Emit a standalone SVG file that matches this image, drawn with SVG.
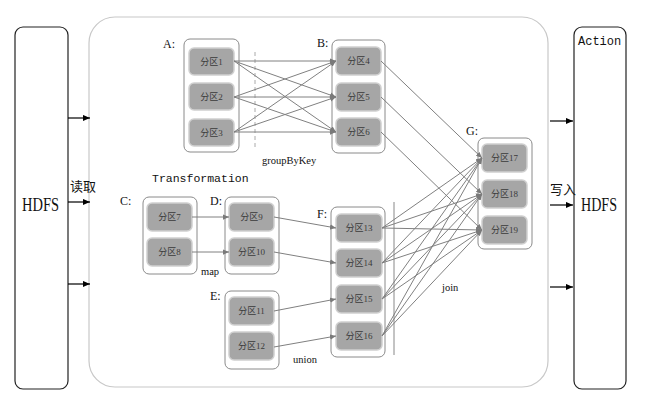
<svg xmlns="http://www.w3.org/2000/svg" width="668" height="410" viewBox="0 0 668 410">
<defs>
<marker id="ag" viewBox="0 0 8 8" refX="8" refY="4" markerWidth="6" markerHeight="6" orient="auto" markerUnits="userSpaceOnUse"><path d="M0,0.5 L8,4 L0,7.5 z" fill="#7a7a7a"/></marker>
<marker id="ak" viewBox="0 0 8 8" refX="8" refY="4" markerWidth="8" markerHeight="7" orient="auto" markerUnits="userSpaceOnUse"><path d="M0,0.5 L8,4 L0,7.5 z" fill="#000"/></marker>
<style>
.hd{fill:#fff;stroke:#222;stroke-width:1.2}
.big{fill:#fff;stroke:#c8c8c8;stroke-width:1.2}
.ct{fill:#fff;stroke:#8a8a8a;stroke-width:1}
.pt{fill:#a6a6a6;stroke:#d0d0d0;stroke-width:1.5}
.pl{font-family:"Liberation Serif","Noto Sans CJK SC",serif;font-size:9px;fill:#3a3a3a;text-anchor:middle}
.lb{font-family:"Liberation Serif",serif;font-size:12px;fill:#111}
.sm{font-family:"Liberation Serif",serif;font-size:10.5px;fill:#111}
.cj{font-family:"Noto Sans CJK SC",sans-serif;font-size:13px;fill:#111}
.g line{stroke:#808080;stroke-width:1;marker-end:url(#ag)}
.k line{stroke:#000;stroke-width:1.2;marker-end:url(#ak)}
</style>
</defs>
<rect width="668" height="410" fill="#fff"/>
<rect class="big" x="89" y="17" width="459" height="370" rx="26"/>

<g id="hdfs-in">
<rect class="hd" x="15" y="27" width="53" height="362" rx="8"/>
<text x="22" y="211" font-family="Liberation Serif,serif" font-size="18" textLength="37" lengthAdjust="spacingAndGlyphs" fill="#111">HDFS</text>
</g>
<g id="hdfs-out">
<rect class="hd" x="574" y="27" width="52" height="362" rx="8"/>
<text x="578" y="45" font-family="Liberation Mono,monospace" font-size="12" fill="#111">Action</text>
<text x="581" y="211" font-family="Liberation Serif,serif" font-size="18" textLength="36" lengthAdjust="spacingAndGlyphs" fill="#111">HDFS</text>
</g>
<text class="cj" x="70" y="191">读取</text>
<text class="cj" x="550" y="194" font-size="12">写入</text>

<g id="A">
<rect class="ct" x="184" y="39" width="55" height="113" rx="6"/>
<rect class="pt" x="189" y="48" width="45" height="27" rx="5"/><text class="pl" x="211.5" y="65">分区1</text>
<rect class="pt" x="189" y="83" width="45" height="27" rx="5"/><text class="pl" x="211.5" y="100">分区2</text>
<rect class="pt" x="189" y="119" width="45" height="27" rx="5"/><text class="pl" x="211.5" y="136">分区3</text>
<text class="lb" x="163" y="48">A:</text>
</g>
<g id="B">
<rect class="ct" x="332" y="40" width="53" height="113" rx="6"/>
<rect class="pt" x="336" y="47" width="45" height="28" rx="5"/><text class="pl" x="358.5" y="64">分区4</text>
<rect class="pt" x="336" y="83" width="45" height="28" rx="5"/><text class="pl" x="358.5" y="100">分区5</text>
<rect class="pt" x="336" y="118" width="45" height="28" rx="5"/><text class="pl" x="358.5" y="135">分区6</text>
<text class="lb" x="317" y="47">B:</text>
</g>
<g id="C">
<rect class="ct" x="143" y="197" width="54" height="77" rx="6"/>
<rect class="pt" x="147" y="203" width="45" height="28" rx="5"/><text class="pl" x="169.5" y="220">分区7</text>
<rect class="pt" x="147" y="238" width="45" height="28" rx="5"/><text class="pl" x="169.5" y="255">分区8</text>
<text class="lb" x="120" y="205">C:</text>
</g>
<g id="D">
<rect class="ct" x="225" y="197" width="54" height="77" rx="6"/>
<rect class="pt" x="229" y="203" width="45" height="28" rx="5"/><text class="pl" x="251.5" y="220">分区9</text>
<rect class="pt" x="229" y="238" width="45" height="28" rx="5"/><text class="pl" x="251.5" y="255">分区10</text>
<text class="lb" x="210" y="205">D:</text>
</g>
<g id="E">
<rect class="ct" x="225" y="291" width="54" height="78" rx="6"/>
<rect class="pt" x="229" y="297" width="45" height="28" rx="5"/><text class="pl" x="251.5" y="314">分区11</text>
<rect class="pt" x="229" y="332" width="45" height="28" rx="5"/><text class="pl" x="251.5" y="349">分区12</text>
<text class="lb" x="210" y="300">E:</text>
</g>
<g id="F">
<rect class="ct" x="331" y="207" width="54" height="150" rx="6"/>
<rect class="pt" x="336" y="214" width="46" height="28" rx="5"/><text class="pl" x="359" y="231">分区13</text>
<rect class="pt" x="336" y="249" width="46" height="28" rx="5"/><text class="pl" x="359" y="266">分区14</text>
<rect class="pt" x="336" y="285" width="46" height="28" rx="5"/><text class="pl" x="359" y="302">分区15</text>
<rect class="pt" x="336" y="322" width="46" height="28" rx="5"/><text class="pl" x="359" y="339">分区16</text>
<text class="lb" x="317" y="218">F:</text>
</g>
<g id="G">
<rect class="ct" x="478" y="138" width="54" height="111" rx="6"/>
<rect class="pt" x="482" y="144" width="45" height="28" rx="5"/><text class="pl" x="504.5" y="161">分区17</text>
<rect class="pt" x="482" y="180" width="45" height="28" rx="5"/><text class="pl" x="504.5" y="197">分区18</text>
<rect class="pt" x="482" y="216" width="45" height="28" rx="5"/><text class="pl" x="504.5" y="233">分区19</text>
<text class="lb" x="466" y="135">G:</text>
</g>

<g id="labels">
<line x1="255" y1="52" x2="255" y2="148" stroke="#aaa" stroke-width="1" stroke-dasharray="4 3"/>
<line x1="394" y1="202" x2="394" y2="355" stroke="#888" stroke-width="1"/>
<text class="sm" x="262" y="164">groupByKey</text>
<text x="152" y="182" font-family="Liberation Mono,monospace" font-size="11.5" fill="#111">Transformation</text>
<text class="sm" x="201" y="275">map</text>
<text class="sm" x="293" y="363">union</text>
<text class="sm" x="442" y="291" font-size="11">join</text>
</g>

<g id="connectors">
<g class="k">
<line x1="68" y1="118" x2="90" y2="118"/>
<line x1="68" y1="202" x2="90" y2="202"/>
<line x1="68" y1="284" x2="90" y2="284"/>
<line x1="550" y1="121" x2="573" y2="121"/>
<line x1="550" y1="205" x2="573" y2="205"/>
<line x1="550" y1="287" x2="573" y2="287"/>
</g>
<g class="g">
<line x1="234" y1="61" x2="336" y2="61"/>
<line x1="234" y1="61" x2="336" y2="97"/>
<line x1="234" y1="61" x2="336" y2="132"/>
<line x1="234" y1="97" x2="336" y2="61"/>
<line x1="234" y1="97" x2="336" y2="97"/>
<line x1="234" y1="97" x2="336" y2="132"/>
<line x1="234" y1="132" x2="336" y2="61"/>
<line x1="234" y1="132" x2="336" y2="97"/>
<line x1="234" y1="132" x2="336" y2="132"/>
<line x1="381" y1="61" x2="482" y2="158"/>
<line x1="381" y1="97" x2="482" y2="194"/>
<line x1="381" y1="132" x2="482" y2="230"/>
<line x1="192" y1="217" x2="229" y2="217"/>
<line x1="192" y1="252" x2="229" y2="252"/>
<line x1="274" y1="217" x2="336" y2="228"/>
<line x1="274" y1="252" x2="336" y2="263"/>
<line x1="274" y1="311" x2="336" y2="299"/>
<line x1="274" y1="347" x2="336" y2="336"/>
<line x1="382" y1="228" x2="482" y2="158"/>
<line x1="382" y1="228" x2="482" y2="194"/>
<line x1="382" y1="228" x2="482" y2="230"/>
<line x1="382" y1="263" x2="482" y2="158"/>
<line x1="382" y1="263" x2="482" y2="194"/>
<line x1="382" y1="263" x2="482" y2="230"/>
<line x1="382" y1="299" x2="482" y2="158"/>
<line x1="382" y1="299" x2="482" y2="194"/>
<line x1="382" y1="299" x2="482" y2="230"/>
<line x1="382" y1="336" x2="482" y2="158"/>
<line x1="382" y1="336" x2="482" y2="194"/>
<line x1="382" y1="336" x2="482" y2="230"/>
</g>
</g>
</svg>
